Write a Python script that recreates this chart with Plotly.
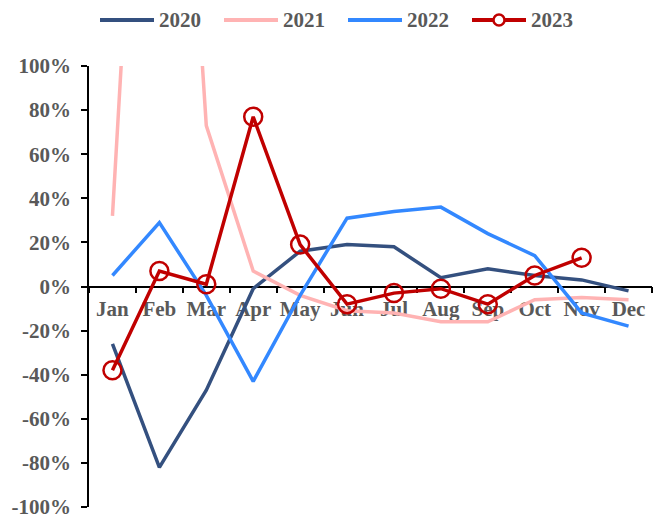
import plotly.graph_objects as go

# Monthly growth rates (%) by year
months = ["Jan", "Feb", "Mar", "Apr", "May", "Jun",
          "Jul", "Aug", "Sep", "Oct", "Nov", "Dec"]
y2020 = [-26, -82, -47, -1, 16, 19, 18, 4, 8, 5, 3, -2]
y2021 = [32, 400, 73, 7, -4, -11, -12, -16, -16, -6, -5, -6]
y2022 = [5, 29, -4, -43, -4, 31, 34, 36, 24, 14, -12, -18]
y2023 = [-38, 7, 1, 77, 19, -8, -3, -1, -8, 5, 13]

series_names = ["2020", "2021", "2022", "2023"]
series_values = [y2020, y2021, y2022, y2023]
series_colors = ["#34507F", "#FFB3B3", "#3388FF", "#C00000"]

y_ticks = [-100, -80, -60, -40, -20, 0, 20, 40, 60, 80, 100]
y_tick_labels = [f"{v}%" for v in y_ticks]

FONT = "Liberation Serif"
TEXT_GREY = "#595959"

fig = go.Figure()
for name, vals, color in zip(series_names, series_values, series_colors):
    has_markers = name == "2023"
    fig.add_trace(go.Scatter(
        x=months[:len(vals)], y=vals, name=name,
        mode="lines+markers" if has_markers else "lines",
        line=dict(color=color, width=3.5),
        marker=dict(symbol="circle-open", size=18, color=color,
                    line=dict(color=color, width=2.5)),
        showlegend=False,
    ))

# Legend row drawn across the top
M_L, M_R, M_T, M_B = 89, 1, 66, 11
W, H = 653, 518
pw, ph = W - M_L - M_R, H - M_T - M_B
def px_x(p):
    return (p - M_L) / pw
def px_y(p):
    return (H - M_B - p) / ph

leg_y = 20
leg_x0 = 100
step = 124
shapes, annotations = [], []
for i, (name, color) in enumerate(zip(series_names, series_colors)):
    x0 = leg_x0 + i * step
    shapes.append(dict(type="line", xref="paper", yref="paper",
                       x0=px_x(x0), x1=px_x(x0 + 54), y0=px_y(leg_y), y1=px_y(leg_y),
                       line=dict(color=color, width=4)))
    if name == "2023":
        cx = x0 + 27
        shapes.append(dict(type="circle", xref="paper", yref="paper",
                           x0=px_x(cx - 5.5), x1=px_x(cx + 5.5),
                           y0=px_y(leg_y + 5.5), y1=px_y(leg_y - 5.5),
                           line=dict(color=color, width=2.5),
                           fillcolor="white"))
    annotations.append(dict(text=name, xref="paper", yref="paper",
                            x=px_x(x0 + 57), y=px_y(leg_y), xanchor="left",
                            yanchor="middle", showarrow=False,
                            font=dict(family=FONT, size=21, color=TEXT_GREY,
                                      weight="bold")))

tick_font = dict(family=FONT, size=21, color=TEXT_GREY, weight="bold")

fig.update_layout(
    width=W, height=H,
    margin=dict(l=M_L, r=M_R, t=M_T, b=M_B),
    paper_bgcolor="white", plot_bgcolor="white",
    showlegend=False,
    shapes=shapes, annotations=annotations,
    font=dict(family=FONT, size=21, color=TEXT_GREY, weight="bold"),
    xaxis=dict(
        type="category", categoryorder="array", categoryarray=months,
        range=[-0.5, 11.5],
        anchor="free", position=0.5,
        showline=True, linecolor="black", linewidth=1.5,
        ticks="outside", ticklen=6, tickwidth=1.5, tickcolor="black",
        tickson="boundaries", tickangle=0, ticklabelstandoff=4,
        showgrid=False, zeroline=False, automargin=False,
        ticklabeloverflow="allow", layer="below traces",
        tickfont=tick_font,
    ),
    yaxis=dict(
        range=[-100.01, 100.01], tickmode="array",
        tickvals=y_ticks, ticktext=y_tick_labels,
        showline=True, linecolor="black", linewidth=1.5,
        ticks="outside", ticklen=6, tickwidth=1.5, tickcolor="black",
        ticklabelstandoff=6,
        showgrid=False, zeroline=False, automargin=False,
        ticklabeloverflow="allow", layer="below traces",
        tickfont=tick_font,
    ),
)

fig.write_html("out.html")
